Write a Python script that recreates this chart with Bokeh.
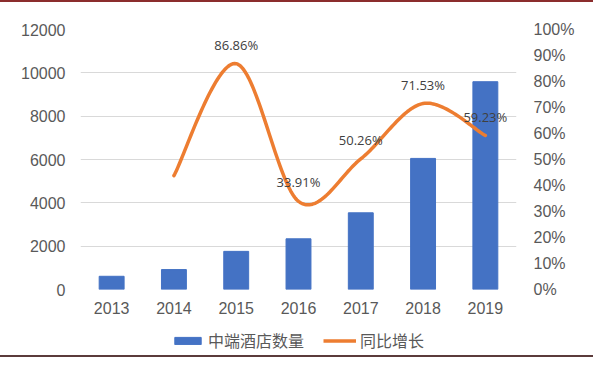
import numpy as np
from bokeh.plotting import figure
from bokeh.layouts import column
from bokeh.models import (Range1d, LinearAxis, FixedTicker, ColumnDataSource,
                          Legend, LegendItem, NumeralTickFormatter)
from bokeh.core.properties import value
from bokeh.embed import file_html
from bokeh.resources import INLINE

years = ["2013", "2014", "2015", "2016", "2017", "2018", "2019"]
hotels = [610, 920, 1760, 2340, 3540, 6050, 9590]
growth = [None, 43.8, 86.86, 33.91, 50.26, 71.53, 59.23]
growth_labels = ["", "", "86.86%", "33.91%", "50.26%", "71.53%", "59.23%"]
left_ticks = [0, 2000, 4000, 6000, 8000, 10000, 12000]
right_ticks = [0, 10, 20, 30, 40, 50, 60, 70, 80, 90, 100]
legend_labels = ["中端酒店数量", "同比增长"]

BLUE = "#4472C4"
ORANGE = "#ED7D31"
GREY = "#595959"
GRID = "#d9d9d9"

xs = [i + 0.5 for i in range(len(years))]

p = figure(width=593, height=318, output_backend="svg", toolbar_location=None,
           x_range=Range1d(0, len(years)), y_range=Range1d(0, 12000),
           min_border_left=80, min_border_right=77, min_border_top=27,
           min_border_bottom=31)
p.outline_line_color = None
p.background_fill_color = "white"
p.border_fill_color = "white"
p.styles = {"border-top": "2px solid #8b2d2d"}

p.extra_y_ranges = {"pct": Range1d(0, 100)}

src = ColumnDataSource(dict(x=xs, hotels=hotels))
p.vbar(x="x", top="hotels", width=0.4, color=BLUE, source=src)

# smooth (Catmull-Rom) curve through the growth points
pts = [(xs[i], g) for i, g in enumerate(growth) if g is not None]
P = [pts[0]] + pts + [pts[-1]]
cx, cy = [], []
for k in range(1, len(P) - 2):
    p0, p1, p2, p3 = P[k - 1], P[k], P[k + 1], P[k + 2]
    for t in np.linspace(0, 1, 40, endpoint=(k == len(P) - 3)):
        t2, t3 = t * t, t * t * t
        for arr, j in ((cx, 0), (cy, 1)):
            arr.append(0.5 * ((2 * p1[j]) + (-p0[j] + p2[j]) * t +
                              (2 * p0[j] - 5 * p1[j] + 4 * p2[j] - p3[j]) * t2 +
                              (-p0[j] + 3 * p1[j] - 3 * p2[j] + p3[j]) * t3))
p.line(cx, cy, line_width=3.5, color=ORANGE, y_range_name="pct",
       line_cap="round", line_join="round")

lab_x = [xs[i] for i, g in enumerate(growth) if g is not None and growth_labels[i]]
lab_y = [g for i, g in enumerate(growth) if g is not None and growth_labels[i]]
lab_t = [growth_labels[i] for i, g in enumerate(growth) if g is not None and growth_labels[i]]
p.text(x=lab_x, y=lab_y, text=lab_t, y_range_name="pct", y_offset=-19,
       text_align="center", text_baseline="middle", text_font=value("Open Sans"),
       text_font_size="13px", text_color="#404040")

# axes
for ax in p.axis:
    ax.visible = False
p.xgrid.visible = False
p.ygrid.grid_line_color = GRID
p.ygrid.ticker = FixedTicker(ticks=left_ticks)

def style(ax, standoff):
    ax.axis_line_color = None
    ax.major_tick_line_color = None
    ax.minor_tick_line_color = None
    ax.major_tick_out = 0
    ax.major_tick_in = 0
    ax.major_label_text_font = "Liberation Sans"
    ax.major_label_text_font_size = "16px"
    ax.major_label_text_color = GREY
    ax.major_label_standoff = standoff

left = LinearAxis(ticker=FixedTicker(ticks=left_ticks))
style(left, 15)
p.add_layout(left, "left")

right = LinearAxis(y_range_name="pct", ticker=FixedTicker(ticks=right_ticks),
                   formatter=NumeralTickFormatter(format="0"))
right.major_label_overrides = {t: f"{t}%" for t in right_ticks}
style(right, 17)
p.add_layout(right, "right")

bottom = LinearAxis(ticker=FixedTicker(ticks=xs))
bottom.major_label_overrides = {x: y for x, y in zip(xs, years)}
style(bottom, 12)
p.add_layout(bottom, "below")

# legend strip
lg = figure(width=593, height=39, output_backend="svg", toolbar_location=None,
            x_range=Range1d(0, 1), y_range=Range1d(0, 1),
            min_border_left=0, min_border_right=0, min_border_top=0,
            min_border_bottom=0)
lg.outline_line_color = None
lg.axis.visible = False
lg.grid.visible = False
lg.styles = {"border-bottom": "2px solid #5b3b3b"}
rb = lg.vbar(x=[0.5], top=[-1], bottom=[-2], width=0.1, color=BLUE)
rl = lg.line(x=[0.5, 0.6], y=[-1, -1], line_width=3.5, color=ORANGE)
legend = Legend(items=[LegendItem(label=legend_labels[0], renderers=[rb]),
                       LegendItem(label=legend_labels[1], renderers=[rl])],
                orientation="horizontal", location=(91, 5),
                glyph_width=33, glyph_height=9, label_height=18,
                label_text_font="Noto Sans CJK SC", label_text_font_size="16px",
                label_text_color=GREY, label_standoff=4, spacing=19,
                padding=0, margin=0, border_line_color=None,
                background_fill_alpha=0)
lg.add_layout(legend, "center")

open("out.html", "w").write(file_html(column(p, lg, spacing=0), INLINE))
